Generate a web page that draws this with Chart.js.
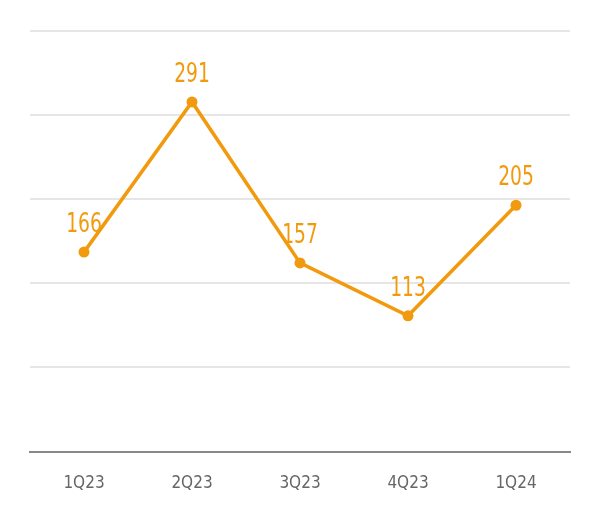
<!DOCTYPE html>
<html>
<head>
<meta charset="utf-8">
<script src="https://cdn.jsdelivr.net/npm/chart.js@4"></script>
<style>
  body { margin: 0; background: #fff; }
  #wrap { width: 600px; height: 520px; }
</style>
</head>
<body>
<div id="wrap"><canvas id="lineChart"></canvas></div>
<script>
var quarters = ['1Q23', '2Q23', '3Q23', '4Q23', '1Q24'];
var values = [166, 291, 157, 113, 205];
var yTicks = [0, 70, 140, 210, 280, 350];

var orange = '#F29A0E';
var fontFam = '"Liberation Sans Narrow", "DejaVu Sans Condensed", sans-serif';

// étiquettes de valeur au-dessus des points
var valueLabels = {
  id: 'valueLabels',
  afterDatasetsDraw: function(chart) {
    var ctx = chart.ctx;
    var meta = chart.getDatasetMeta(0);
    ctx.save();
    ctx.fillStyle = orange;
    ctx.font = '26px ' + fontFam;
    ctx.textAlign = 'center';
    ctx.textBaseline = 'bottom';
    meta.data.forEach(function(pt, i) {
      ctx.save();
      ctx.translate(pt.x, pt.y - 14);
      ctx.scale(0.8, 1);
      ctx.fillText(values[i], 0, 0);
      ctx.restore();
    });
    ctx.restore();
  }
};

new Chart(document.getElementById('lineChart').getContext('2d'), {
  type: 'line',
  data: {
    labels: quarters,
    datasets: [{
      data: values,
      borderColor: orange,
      backgroundColor: orange,
      borderWidth: 3.5,
      pointRadius: 5.5,
      pointBackgroundColor: orange,
      pointBorderWidth: 0,
      tension: 0
    }]
  },
  options: {
    responsive: true,
    maintainAspectRatio: false,
    animation: false,
    layout: { padding: { left: 30, right: 30, top: 31, bottom: 12 } },
    plugins: { legend: { display: false }, tooltip: { enabled: false } },
    scales: {
      x: {
        offset: true,
        grid: { display: false },
        border: { color: '#888', width: 2 },
        ticks: { color: '#666', font: { family: fontFam, size: 17 }, padding: 14 }
      },
      y: {
        display: true,
        min: 0, max: 350,
        afterBuildTicks: function(axis) { axis.ticks = yTicks.map(function(v) { return { value: v }; }); },
        grid: { color: '#e6e6e6', lineWidth: 2, drawTicks: false },
        border: { display: false },
        ticks: { display: false }
      }
    }
  },
  plugins: [valueLabels]
});
</script>
</body>
</html>
